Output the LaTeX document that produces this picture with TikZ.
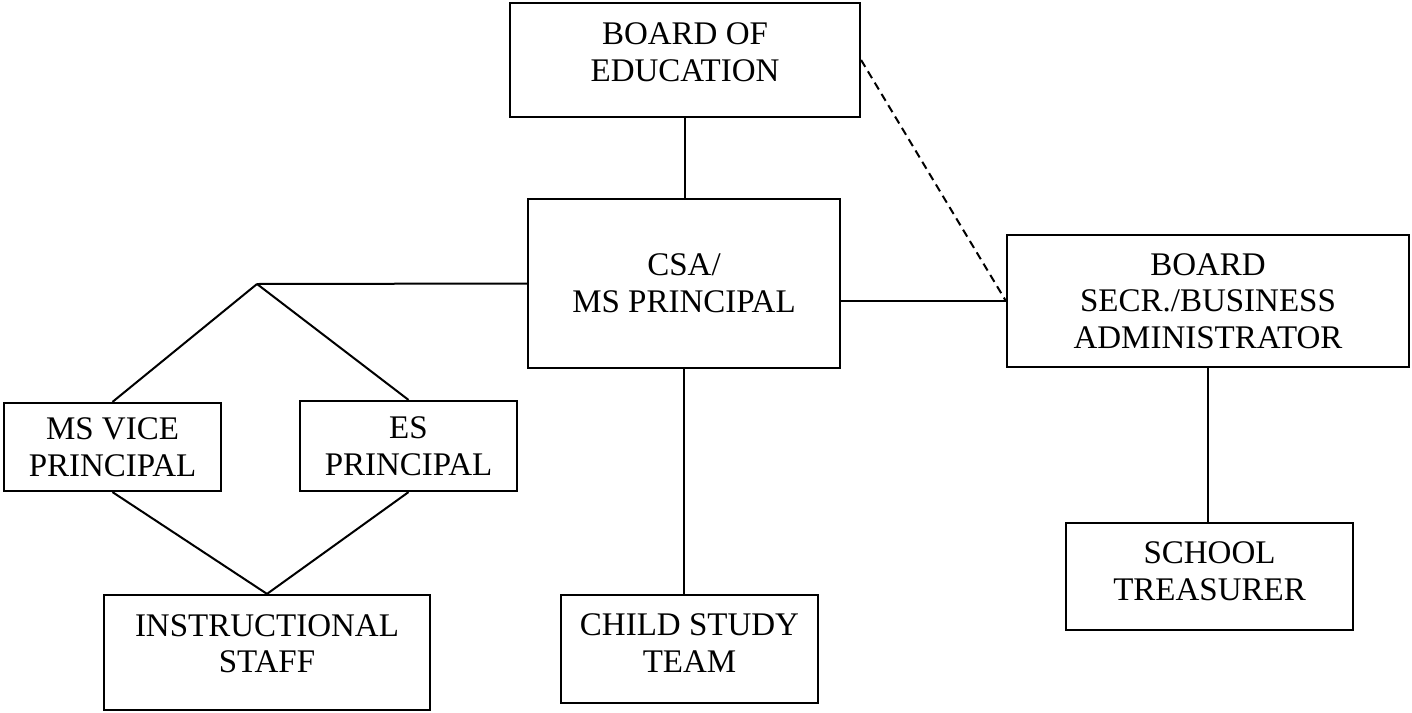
\documentclass[tikz,border=0pt]{standalone}
\usepackage{fontspec}
\setmainfont{Liberation Serif}
\usepackage{tikz}

\begin{document}
\begin{tikzpicture}
            [
                x=0.5pt, y=-0.5pt,
                box/.style={draw, line width=1.1pt, align=center, inner sep=2pt,
                    font=\fontsize{16.5}{18.3}\selectfont},
                link/.style={line width=1pt},
                dotlink/.style={line width=1pt, dash pattern=on 4pt off 2.6pt}
            ]
            \useasboundingbox (0,0) rectangle (1412,712);
            \node[box, minimum width=175pt, minimum height=57pt, text depth=8pt] (boe) at (685,60) {
                BOARD OF \\
                EDUCATION
            };
            \node[box, minimum width=156pt, minimum height=84.5pt] (csa) at (684,283.5) {
                CSA/ \\
                MS PRINCIPAL
            };
            \node[box, minimum width=201pt, minimum height=66pt] (bsba) at (1208,301) {
                BOARD \\
                SECR./BUSINESS \\
                ADMINISTRATOR
            };
            \node[box, minimum width=143.5pt, minimum height=53.5pt, text depth=5.5pt] (treas) at (1209.5,576.5) {
                SCHOOL \\
                TREASURER
            };
            \node[box, minimum width=108.5pt, minimum height=44pt] (msvp) at (112.5,447) {
                MS VICE \\
                PRINCIPAL
            };
            \node[box, minimum width=108.5pt, minimum height=45pt] (esp) at (408.5,446) {
                ES \\
                PRINCIPAL
            };
            \node[box, minimum width=163pt, minimum height=57.5pt, text depth=9pt] (instr) at (267,652.5) {
                INSTRUCTIONAL \\
                STAFF
            };
            \node[box, minimum width=128.5pt, minimum height=54pt, text depth=6pt] (cst) at (689.5,649) {
                CHILD STUDY \\
                TEAM
            };
            \coordinate (split) at (257,284);

            \draw[link] (boe.south) -- (boe.south |- csa.north);
            \draw[link] (csa.west) -- (split);
            \draw[link] (split) -- (msvp.north);
            \draw[link] (split) -- (esp.north);
            \draw[link] (msvp.south) -- (instr.north);
            \draw[link] (esp.south) -- (instr.north);
            \draw[link] (csa.south) -- (csa.south |- cst.north);
            \draw[link] (csa.east |- bsba.west) -- (bsba.west);
            \draw[dotlink] (boe.east) -- (bsba.west);
            \draw[link] (bsba.south) -- (bsba.south |- treas.north);
        \end{tikzpicture}
\end{document}
